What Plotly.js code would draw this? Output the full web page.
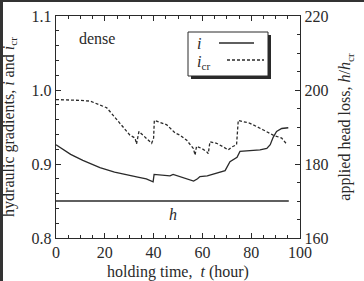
<!DOCTYPE html>
<html>
<head>
<meta charset="utf-8">
<script src="https://cdn.plot.ly/plotly-3.0.1.min.js"></script>
<style>
  html, body { margin: 0; padding: 0; background: #fff; }
  #wrap { position: relative; width: 364px; height: 281px; }
  #chart { width: 364px; height: 281px; }
  #frame { position: absolute; left: 0; top: 0; width: 364px; height: 281px;
           box-sizing: border-box; border-left: 3px solid #333; border-top: 2px solid #333;
           pointer-events: none; }
</style>
</head>
<body>
<div id="wrap">
  <div id="chart"></div>
  <div id="frame"></div>
</div>
<script>
// Hydraulic gradient i during holding (solid)
const tI = [0, 3, 6, 11, 18, 24, 29, 34, 37, 39.8, 40.2, 44, 46.7, 48, 50, 53, 56.4, 58, 59, 62, 65, 69.3, 71.3, 73.4, 74.2, 75.4, 80, 83.6, 86.4, 87.8, 89, 90.4, 92.5, 95.2];
const iVal = [0.926, 0.920, 0.913, 0.905, 0.895, 0.889, 0.885, 0.882, 0.880, 0.876, 0.886, 0.885, 0.884, 0.886, 0.884, 0.881, 0.877, 0.880, 0.883, 0.884, 0.887, 0.891, 0.903, 0.908, 0.909, 0.917, 0.918, 0.919, 0.921, 0.926, 0.936, 0.944, 0.948, 0.949];

// Critical gradient i_cr (dashed)
const tIcr = [0, 5, 10, 14, 20.8, 26.2, 30.3, 32.4, 33, 34, 36, 39.2, 40.0, 40.3, 45.4, 48.8, 50.8, 53.6, 56.3, 57, 57.6, 59.7, 61.7, 62.4, 63.1, 65.8, 68.6, 70.6, 72, 74, 74.7, 79.5, 85, 89, 92.5, 94.5];
const icrVal = [0.987, 0.987, 0.986, 0.985, 0.976, 0.955, 0.939, 0.935, 0.927, 0.944, 0.938, 0.928, 0.935, 0.959, 0.953, 0.942, 0.939, 0.932, 0.921, 0.912, 0.924, 0.921, 0.917, 0.914, 0.930, 0.928, 0.923, 0.919, 0.923, 0.926, 0.959, 0.955, 0.946, 0.939, 0.935, 0.927];

// Applied head loss h/h_cr (right axis)
const tH = [0, 95.4];
const hVal = [170, 170];

const serif = 'Liberation Serif';
const ink = '#2a2a2a';

const traces = [
  { x: tI, y: iVal, type: 'scatter', mode: 'lines', name: 'i',
    line: { color: ink, width: 1.3 }, hoverinfo: 'skip' },
  { x: tIcr, y: icrVal, type: 'scatter', mode: 'lines', name: 'icr',
    line: { color: ink, width: 1.3, dash: '3px,2px' }, hoverinfo: 'skip' },
  { x: tH, y: hVal, type: 'scatter', mode: 'lines', name: 'h', yaxis: 'y2',
    line: { color: ink, width: 1.3 }, hoverinfo: 'skip' }
];

const txt = { family: serif, size: 16, color: ink };

// plot-area pixel helpers for the hand-drawn legend (plot spans 56..300 x 16..238)
const px = v => (v - 56) / 244;
const py = v => (238 - v) / 222;

const layout = {
  width: 364, height: 281,
  margin: { l: 56, r: 64, t: 16, b: 43 },
  paper_bgcolor: '#fff', plot_bgcolor: '#fff',
  showlegend: false,
  font: txt,
  xaxis: {
    range: [0, 100], dtick: 20, tick0: 0, automargin: false,
    ticks: 'inside', ticklen: 5, tickwidth: 1, tickcolor: ink,
    minor: { dtick: 5, ticks: 'inside', ticklen: 3, tickcolor: ink },
    showline: true, linecolor: ink, linewidth: 1.2, mirror: 'ticks',
    showgrid: false, zeroline: false, tickfont: txt,
    title: { text: 'holding time,  <i>t</i> (hour)', font: txt }
  },
  yaxis: {
    range: [0.8, 1.1], dtick: 0.1, tick0: 0.8, tickformat: '.1f', automargin: false,
    ticks: 'inside', ticklen: 5, tickwidth: 1, tickcolor: ink,
    minor: { dtick: 0.02, ticks: 'inside', ticklen: 3, tickcolor: ink },
    showline: true, linecolor: ink, linewidth: 1.2,
    showgrid: false, zeroline: false, tickfont: txt,
    title: { text: 'hydraulic gradients, <i>i</i> and <i>i</i><sub>cr</sub>', font: txt }
  },
  yaxis2: {
    overlaying: 'y', side: 'right', automargin: false,
    range: [160, 220], dtick: 20, tick0: 160,
    ticks: 'inside', ticklen: 5, tickwidth: 1, tickcolor: ink,
    minor: { dtick: 5, ticks: 'inside', ticklen: 3, tickcolor: ink },
    showline: true, linecolor: ink, linewidth: 1.2,
    showgrid: false, zeroline: false, tickfont: txt,
    title: { text: 'applied head loss, <i>h</i>/<i>h</i><sub>cr</sub>', font: txt }
  },
  shapes: [
    // legend frame
    { type: 'rect', xref: 'paper', yref: 'paper', x0: px(188), x1: px(268), y0: py(76), y1: py(32),
      line: { width: 1, color: ink }, fillcolor: '#fff', layer: 'above' },
    // drop shadow, right and bottom
    { type: 'rect', xref: 'paper', yref: 'paper', x0: px(268), x1: px(271), y0: py(79), y1: py(35),
      line: { width: 0 }, fillcolor: ink, layer: 'above' },
    { type: 'rect', xref: 'paper', yref: 'paper', x0: px(191), x1: px(271), y0: py(79), y1: py(76),
      line: { width: 0 }, fillcolor: ink, layer: 'above' },
    // legend samples
    { type: 'line', xref: 'paper', yref: 'paper', x0: px(219), x1: px(254), y0: py(43), y1: py(43),
      line: { color: ink, width: 1.3 }, layer: 'above' },
    { type: 'line', xref: 'paper', yref: 'paper', x0: px(227), x1: px(264), y0: py(60), y1: py(60),
      line: { color: ink, width: 1.3, dash: '3px,2px' }, layer: 'above' }
  ],
  annotations: [
    { xref: 'x', yref: 'y', x: 17, y: 1.07, text: 'dense', showarrow: false, font: txt },
    { xref: 'x', yref: 'y2', x: 48, y: 166.3, text: '<i>h</i>', showarrow: false, font: txt },
    { xref: 'paper', yref: 'paper', x: px(195), y: py(43), xanchor: 'left', yanchor: 'middle',
      text: '<i>i</i>', showarrow: false, font: txt },
    { xref: 'paper', yref: 'paper', x: px(195), y: py(63), xanchor: 'left', yanchor: 'middle',
      text: '<i>i</i><sub>cr</sub>', showarrow: false, font: txt }
  ]
};

Plotly.newPlot('chart', traces, layout, { staticPlot: true, displayModeBar: false });
</script>
</body>
</html>
